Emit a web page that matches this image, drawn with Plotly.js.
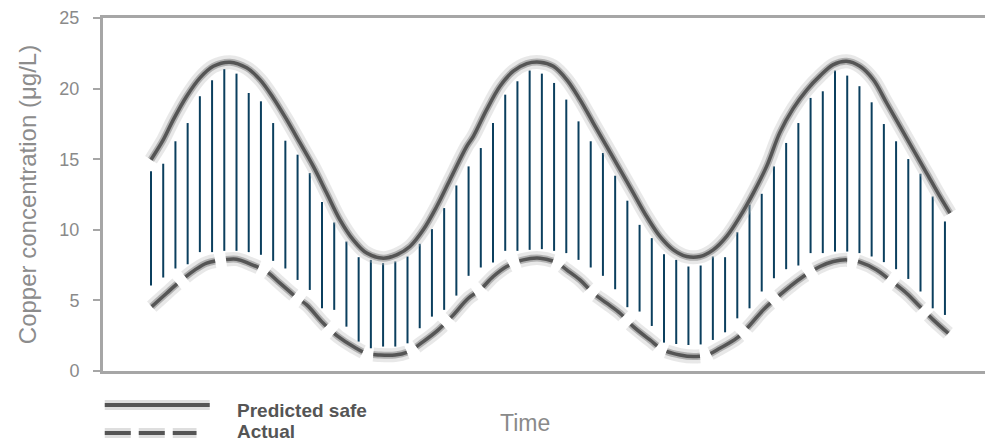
<!DOCTYPE html>
<html>
<head>
<meta charset="utf-8">
<script src="https://cdn.plot.ly/plotly-3.0.1.min.js"></script>
<style>html,body{margin:0;padding:0;background:#fff;}#chart{width:990px;height:445px;}</style>
</head>
<body>
<div id="chart"></div>
<script>
// Sampling times (index of each vertical range line)
const time = [1,2,3,4,5,6,7,8,9,10,11,12,13,14,15,16,17,18,19,20,21,22,23,24,25,26,27,28,29,30,31,32,33,
  34,35,36,37,38,39,40,41,42,43,44,45,46,47,48,49,50,51,52,53,54,55,56,57,58,59,60,61,62,63,64,65,66];
// Upper and lower ends of each vertical line (µg/L)
const rangeTop = [14.14,14.68,16.27,17.56,19.46,20.59,21.39,21.06,19.69,19.10,17.56,16.31,15.32,14.02,
  11.96,10.52,9.17,8.06,7.87,7.64,7.76,8.11,9.01,10.05,11.54,13.14,14.49,
  15.79,17.56,19.57,20.52,21.28,21.06,20.40,19.22,17.68,16.27,15.44,13.83,12.06,
  10.35,9.41,8.27,7.87,7.40,7.47,8.11,8.06,9.83,11.77,12.55,14.49,16.15,
  17.56,19.34,19.81,21.28,20.92,20.17,19.03,17.49,16.27,15.01,13.97,12.36,10.59];
const rangeBottom = [6.05,6.62,7.26,7.56,8.42,8.42,8.51,8.51,8.42,8.23,7.80,7.26,6.45,5.74,
  4.44,4.33,3.14,2.08,1.61,1.73,1.73,1.96,3.03,3.85,4.33,5.34,6.74,
  7.33,7.68,8.51,8.51,8.58,8.63,8.51,8.35,7.87,7.33,6.74,5.79,4.52,
  4.21,3.19,2.01,1.91,1.84,1.88,2.20,2.74,3.73,4.44,5.63,6.57,7.21,
  7.47,8.35,8.35,8.46,8.46,8.35,8.11,7.71,7.21,6.52,5.63,4.44,3.97];
// Predicted safe curve
const predTime = [1.0,2.01,2.83,3.92,5.01,6.10,7.47,8.83,9.92,11.01,12.11,13.20,14.29,15.38,16.47,17.56,
  18.66,20.02,21.11,22.20,23.29,24.39,25.48,26.85,27.39,28.48,29.57,30.66,31.76,32.85,33.94,35.03,36.12,
  37.21,38.31,39.40,40.49,41.58,42.67,43.76,44.86,45.95,47.03,48.13,49.22,50.31,51.40,52.49,53.58,54.68,
  55.77,56.86,57.95,59.04,60.13,61.23,62.32,63.41,64.50,65.59,66.41];
const predicted = [14.96,16.38,17.80,19.46,20.76,21.58,21.87,21.47,20.64,19.34,17.80,16.15,14.49,12.60,
  10.71,9.29,8.35,7.99,8.23,8.82,10.0,11.65,13.55,15.91,16.62,18.51,20.17,21.23,21.77,21.87,21.58,20.64,
  19.22,17.56,15.91,14.26,12.60,10.94,9.53,8.58,8.11,8.11,8.58,9.53,10.94,12.60,14.49,16.90,18.60,19.90,
  20.90,21.70,21.94,21.58,20.64,18.98,17.33,15.67,14.02,12.36,11.18];
// Actual curve
const actTime = [1.06,2.28,3.37,4.60,5.56,6.92,8.01,9.10,10.47,11.56,12.93,13.75,15.11,16.33,17.56,18.66,
  19.75,20.98,22.07,23.29,24.52,25.62,26.98,27.93,29.02,30.12,31.48,32.85,34.21,35.03,36.12,37.21,38.31,
  39.40,40.49,41.85,42.94,44.31,45.40,46.49,47.58,48.95,50.04,51.13,52.49,53.31,54.40,55.77,56.86,57.95,
  59.04,60.41,61.50,62.86,63.95,65.05,66.27];
const actual = [4.56,5.51,6.34,7.16,7.64,7.87,7.92,7.59,7.04,6.22,5.20,4.68,3.38,2.43,1.73,1.25,1.13,1.13,
  1.37,2.08,2.91,3.85,5.15,5.74,6.69,7.40,7.87,7.99,7.68,7.16,6.45,5.51,4.80,4.09,3.14,2.20,1.49,1.13,1.02,
  1.13,1.61,2.32,3.26,4.33,5.39,5.98,6.69,7.40,7.75,7.87,7.71,7.16,6.45,5.51,4.56,3.62,2.67];
const yTicks = [0,5,10,15,20,25];
const seriesNames = ['Predicted safe','Actual'];

// build vertical segments from the range arrays
const segX = [], segY = [];
time.forEach((t, i) => { segX.push(t, t, null); segY.push(rangeBottom[i], rangeTop[i], null); });

const traces = [
  {x: segX, y: segY, type: 'scatter', mode: 'lines', line: {color: '#0b3f5e', width: 2}, hoverinfo: 'skip', showlegend: false},
  // soft halos
  {x: predTime, y: predicted, type: 'scatter', mode: 'lines', line: {color: 'rgba(190,190,190,0.35)', width: 14, shape: 'spline'}, showlegend: false},
  {x: actTime, y: actual, type: 'scatter', mode: 'lines', line: {color: 'rgba(190,190,190,0.35)', width: 14, shape: 'spline', dash: '34px,11px'}, showlegend: false},
  {x: predTime, y: predicted, type: 'scatter', mode: 'lines', line: {color: 'rgba(110,110,110,0.45)', width: 7, shape: 'spline'}, showlegend: false},
  {x: actTime, y: actual, type: 'scatter', mode: 'lines', line: {color: 'rgba(110,110,110,0.45)', width: 7, shape: 'spline', dash: '34px,11px'}, showlegend: false},
  {x: predTime, y: predicted, name: seriesNames[0], type: 'scatter', mode: 'lines', line: {color: '#555555', width: 3.5, shape: 'spline'}, showlegend: false},
  {x: actTime, y: actual, name: seriesNames[1], type: 'scatter', mode: 'lines', line: {color: '#555555', width: 3.5, shape: 'spline', dash: '34px,11px'}, showlegend: false}
];

const FONT = 'Liberation Sans, Arial, sans-serif';
const layout = {
  width: 990, height: 445,
  margin: {l: 103, r: 5, t: 18, b: 74},
  paper_bgcolor: '#ffffff', plot_bgcolor: '#ffffff',
  showlegend: false,
  font: {family: FONT},
  xaxis: {
    range: [-2.93, 69.28], showgrid: false, zeroline: false,
    showticklabels: false, ticks: '',
    showline: true, mirror: true, linecolor: '#a6a6a6', linewidth: 3
  },
  yaxis: {
    range: [0, 25], tickvals: yTicks, ticktext: yTicks.map(String),
    showgrid: false, zeroline: false,
    ticks: 'outside', ticklen: 7, tickwidth: 2, tickcolor: '#a6a6a6',
    ticklabelstandoff: 10,
    tickfont: {family: FONT, size: 18, color: '#8a8a8a'},
    showline: true, linecolor: '#a6a6a6', linewidth: 3,
    title: {text: 'Copper concentration (μg/L)', font: {family: FONT, size: 24, color: '#8c8c8c'}, standoff: 16}
  },
  shapes: [
    {type: 'line', xref: 'paper', yref: 'paper', x0: 0.002, x1: 0.121, y0: -0.0963, y1: -0.0963, line: {color: 'rgba(190,190,190,0.5)', width: 10}},
    {type: 'line', xref: 'paper', yref: 'paper', x0: 0.002, x1: 0.121, y0: -0.0963, y1: -0.0963, line: {color: '#555555', width: 4}},
    {type: 'line', xref: 'paper', yref: 'paper', x0: 0.002, x1: 0.106, y0: -0.1756, y1: -0.1756, line: {color: 'rgba(190,190,190,0.5)', width: 10, dash: '26px,8px'}},
    {type: 'line', xref: 'paper', yref: 'paper', x0: 0.002, x1: 0.106, y0: -0.1756, y1: -0.1756, line: {color: '#555555', width: 4, dash: '26px,8px'}}
  ],
  annotations: [
    {text: '<b>' + seriesNames[0] + '</b>', xref: 'paper', yref: 'paper', x: 0.1497, y: -0.1105, xanchor: 'left', yanchor: 'middle', showarrow: false, font: {family: FONT, size: 19, color: '#555555'}},
    {text: '<b>' + seriesNames[1] + '</b>', xref: 'paper', yref: 'paper', x: 0.1497, y: -0.1728, xanchor: 'left', yanchor: 'middle', showarrow: false, font: {family: FONT, size: 19, color: '#555555'}},
    {text: 'Time', xref: 'paper', yref: 'paper', x: (525 - 103) / 882, y: -0.147, xanchor: 'center', yanchor: 'middle', showarrow: false, font: {family: FONT, size: 23, color: '#8a8a8a'}}
  ]
};

Plotly.newPlot('chart', traces, layout, {staticPlot: true, displayModeBar: false});
</script>
</body>
</html>
